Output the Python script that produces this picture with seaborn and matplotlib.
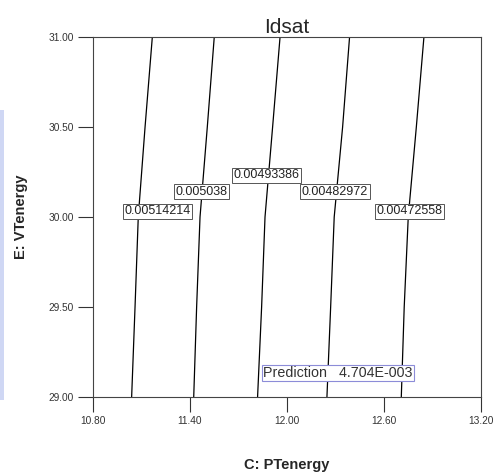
import matplotlib
matplotlib.use("Agg")
import matplotlib.pyplot as plt
import numpy as np
import pandas as pd
import seaborn as sns
from matplotlib.patches import Rectangle

# ── data ────────────────────────────────────────────────────────────────────
levels = ["0.00514214", "0.005038", "0.00493386", "0.00482972", "0.00472558"]
vt_energy = [29.0, 29.5, 30.0, 30.5, 31.0]
pt_energy = {
    "0.00514214": [11.039, 11.060, 11.080, 11.122, 11.167],
    "0.005038":   [11.423, 11.441, 11.462, 11.507, 11.550],
    "0.00493386": [11.818, 11.843, 11.864, 11.911, 11.957],
    "0.00482972": [12.247, 12.270, 12.292, 12.344, 12.387],
    "0.00472558": [12.707, 12.725, 12.750, 12.800, 12.847],
}
label_x = [11.20, 11.474, 11.876, 12.297, 12.760]
label_y = [30.033, 30.139, 30.233, 30.139, 30.033]
prediction_text = "Prediction   4.704E-003"
x_ticks = [10.80, 11.40, 12.00, 12.60, 13.20]
y_ticks = [29.00, 29.50, 30.00, 30.50, 31.00]

rows = []
for lev in levels:
    for x, y in zip(pt_energy[lev], vt_energy):
        rows.append({"level": lev, "PTenergy": x, "VTenergy": y})
df = pd.DataFrame(rows)

sns.set_style("white")
plt.rcParams["font.family"] = ["Liberation Sans", "DejaVu Sans"]

fig = plt.figure(figsize=(4.94, 4.75), dpi=100)
ax = fig.add_axes([93 / 494, 78 / 475, 388 / 494, 360 / 475])

# faint blue strip at the left edge of the screenshot
fig.patches.append(Rectangle((0, 75 / 475), 0.008, 290 / 475, transform=fig.transFigure,
                             color="#c4cef2", alpha=0.8, lw=0, zorder=0))

sns.lineplot(data=df, x="PTenergy", y="VTenergy", units="level", estimator=None,
             sort=False, color="black", lw=0.9, ax=ax, legend=False)

for lev, lx, ly in zip(levels, label_x, label_y):
    ax.text(lx, ly, lev, ha="center", va="center", fontsize=9, color="#222",
            bbox=dict(boxstyle="square,pad=0.12", fc="white", ec="#555", lw=0.7),
            zorder=5)

ax.text(12.315, 29.133, prediction_text, ha="center", va="center", fontsize=10.3,
        color="#333",
        bbox=dict(boxstyle="square,pad=0.1", fc="white", ec="#8c8cd8", lw=0.8),
        zorder=5)

ax.set_xlim(10.80, 13.20)
ax.set_ylim(29.00, 31.00)
ax.set_xticks(x_ticks)
ax.set_yticks(y_ticks)
ax.set_xticklabels([f"{v:.2f}" for v in x_ticks])
ax.set_yticklabels([f"{v:.2f}" for v in y_ticks])
ax.tick_params(axis="both", bottom=True, left=True, direction="out", length=11,
               width=0.8, color="#333", labelsize=7.3, labelcolor="#333", pad=3)
for s in ax.spines.values():
    s.set_color("#444")
    s.set_linewidth(0.8)

ax.set_title("Idsat", fontsize=15, pad=3)
ax.set_xlabel("C: PTenergy", fontsize=10.5, fontweight="bold")
ax.set_ylabel("E: VTenergy", fontsize=10.5, fontweight="bold")
ax.xaxis.set_label_coords(0.5, -0.17)
ax.yaxis.set_label_coords(-0.168, 0.5)

fig.savefig("out.png", dpi=100)
